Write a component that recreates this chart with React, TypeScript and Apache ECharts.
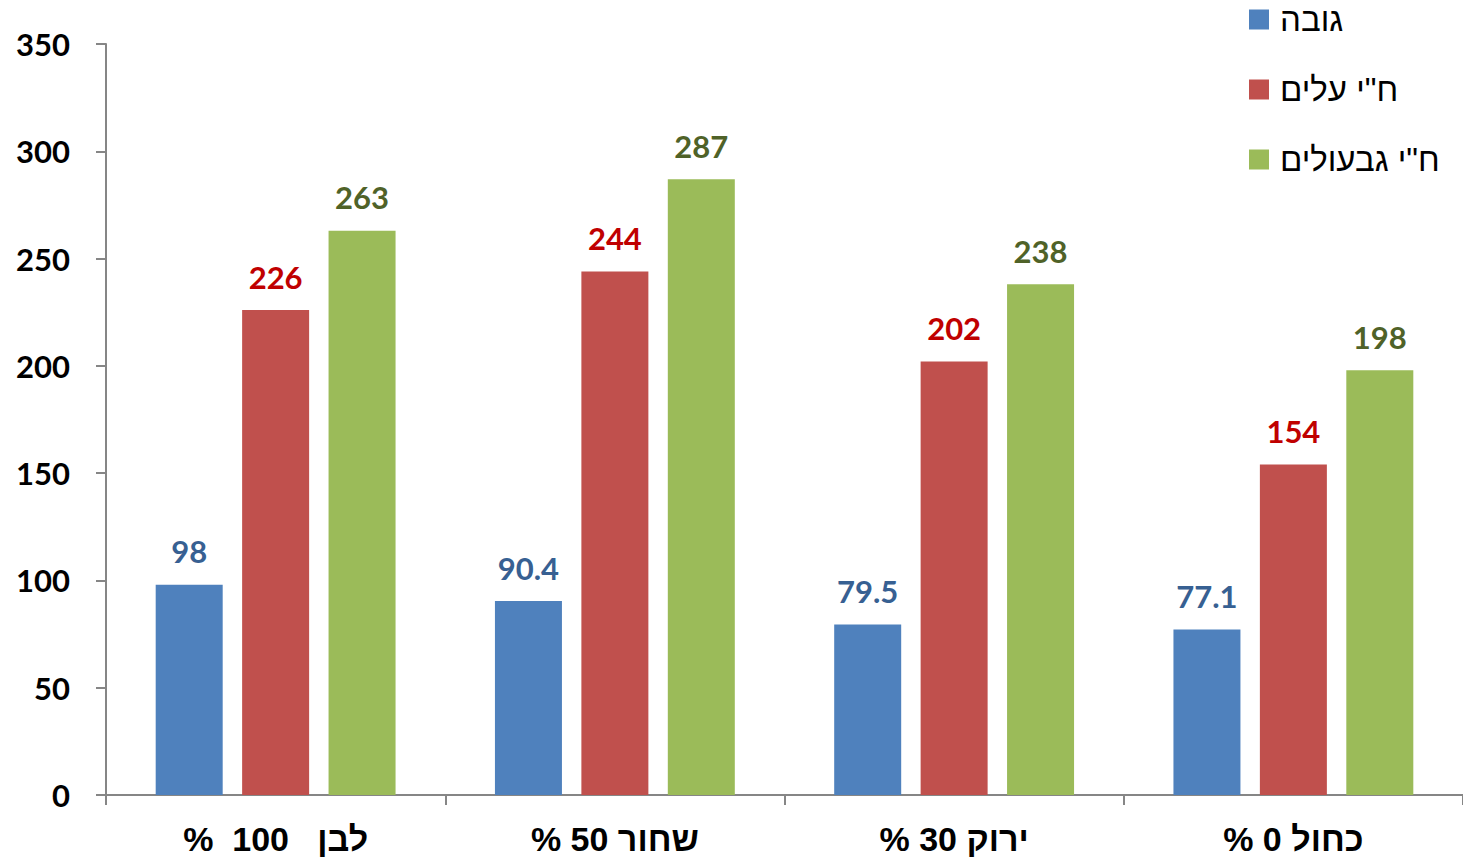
import React, { useEffect, useRef } from "react";
import * as echarts from "echarts";

const categories = ["%  100   לבן", "% 50 שחור", "% 30 ירוק", "% 0 כחול"];
const seriesNames = ["גובה", 'ח"י עלים', 'ח"י גבעולים'];
const heightValues = [98, 90.4, 79.5, 77.1];
const leafValues = [226, 244, 202, 154];
const stemValues = [263, 287, 238, 198];
const barColors = ["#4F81BD", "#C0504D", "#9BBB59"];
const labelColors = ["#376092", "#C00000", "#4F6228"];

export default function App() {
  const ref = useRef<HTMLDivElement>(null);
  useEffect(() => {
    if (!ref.current) return;
    const chart = echarts.init(ref.current, null, { renderer: "svg" });
    const data = [heightValues, leafValues, stemValues];
    chart.setOption({
      animation: false,
      backgroundColor: "#ffffff",
      grid: { left: 106, right: -3, top: 44, bottom: 67, containLabel: false },
      legend: {
        orient: "vertical",
        left: 1244,
        top: -2,
        padding: 5,
        itemWidth: 20,
        itemHeight: 20,
        itemGap: 37,
        icon: "rect",
        textStyle: {
          fontFamily: "Liberation Sans, Arial, sans-serif",
          fontSize: 33,
          color: "#000",
          padding: [0, 0, 0, 6],
        },
        data: seriesNames,
      },
      xAxis: {
        type: "category",
        data: categories,
        axisLine: { lineStyle: { color: "#868686", width: 2 } },
        axisTick: { show: true, length: 10, lineStyle: { color: "#868686", width: 2 } },
        axisLabel: {
          margin: 27,
          fontFamily: "Liberation Sans, Arial, sans-serif",
          fontWeight: "bold",
          fontSize: 34,
          color: "#000",
        },
        splitLine: { show: false },
      },
      yAxis: {
        type: "value",
        min: 0,
        max: 350,
        interval: 50,
        axisLine: { show: true, lineStyle: { color: "#868686", width: 2 } },
        axisTick: { show: true, length: 10, lineStyle: { color: "#868686", width: 2 } },
        axisLabel: {
          margin: 36,
          fontFamily: "Lato, sans-serif",
          fontWeight: "bold",
          fontSize: 31,
          color: "#000",
        },
        splitLine: { show: false },
      },
      series: seriesNames.map((name, i) => ({
        name,
        type: "bar",
        data: data[i],
        barWidth: 67,
        barGap: "29%",
        itemStyle: { color: barColors[i] },
        label: {
          show: true,
          position: "top",
          distance: 18,
          fontFamily: "Lato, sans-serif",
          fontWeight: "bold",
          fontSize: 31,
          color: labelColors[i],
        },
      })),
    });
    return () => chart.dispose();
  }, []);
  return (
    <div
      ref={ref}
      style={{ position: "fixed", left: 0, top: 0, width: 1463, height: 862 }}
    />
  );
}
